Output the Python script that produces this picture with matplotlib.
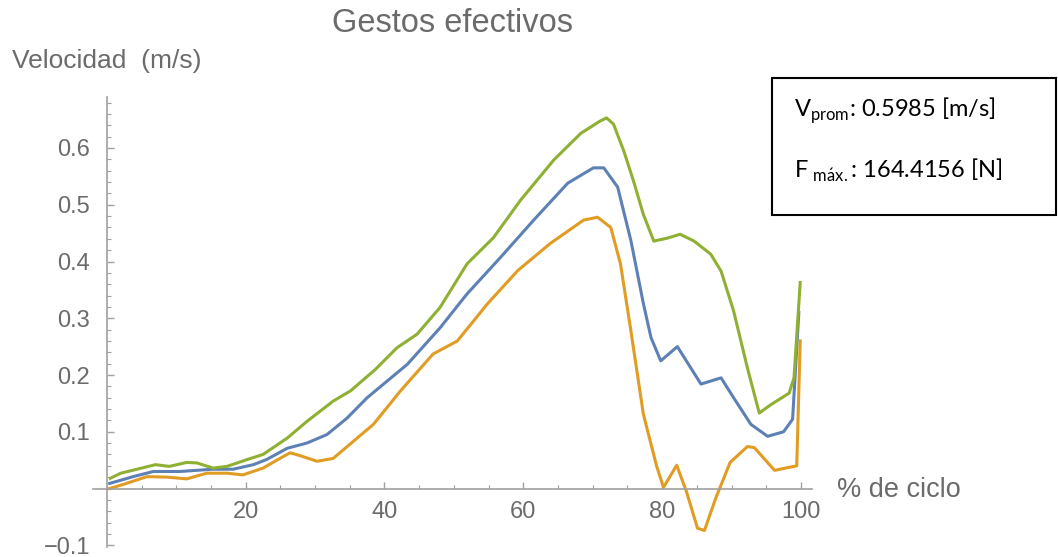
import matplotlib
matplotlib.use("Agg")
from matplotlib import pyplot as plt
from matplotlib.patches import Rectangle
from matplotlib.ticker import MultipleLocator

plt.rcParams["font.family"] = ["Liberation Sans", "DejaVu Sans"]
plt.rcParams["mathtext.fontset"] = "custom"
plt.rcParams["mathtext.rm"] = "Lato"

# green curve (upper)
green_x = [0.5, 2, 5, 7, 9, 11.5, 13, 15.3, 17.3, 20.2, 22.5, 26, 28.8, 32.6, 35.1, 38.7,
           41.8, 44.7, 48, 51.9, 55.7, 59.6, 64.4, 68.3, 71, 72, 73, 74.5, 75.9, 77.3,
           78.8, 80.7, 82.6, 84.6, 87, 88.5, 90.3, 92.3, 94, 95.7, 98.3, 99, 99.9]
green_y = [0.018, 0.027, 0.036, 0.042, 0.039, 0.046, 0.045, 0.036, 0.039, 0.051, 0.06,
           0.089, 0.118, 0.154, 0.172, 0.21, 0.248, 0.272, 0.319, 0.396, 0.442, 0.508,
           0.579, 0.626, 0.647, 0.653, 0.642, 0.594, 0.541, 0.483, 0.436, 0.441, 0.448,
           0.436, 0.413, 0.383, 0.313, 0.212, 0.133, 0.148, 0.168, 0.195, 0.363]

# blue curve (mean)
blue_x = [0.4, 3.8, 6.7, 10.5, 15.3, 18.2, 21.1, 23, 26, 28.8, 31.7, 34.6, 37.5, 43.3,
          48, 51.9, 56.7, 61.5, 66.4, 70.1, 71.6, 73.6, 75.5, 77.3, 78.4, 79.8, 82.2,
          85.6, 88.5, 90.3, 92.8, 95.2, 97.5, 98.8, 99.7]
blue_y = [0.009, 0.021, 0.03, 0.03, 0.034, 0.034, 0.042, 0.051, 0.071, 0.08, 0.095,
          0.124, 0.16, 0.219, 0.283, 0.343, 0.407, 0.473, 0.538, 0.565, 0.565, 0.531,
          0.437, 0.326, 0.266, 0.225, 0.25, 0.184, 0.195, 0.16, 0.113, 0.092, 0.10,
          0.122, 0.31]

# orange curve (lower)
orange_x = [0.4, 2.3, 5.8, 8.7, 11.5, 14.4, 17.3, 19.6, 22.5, 24.5, 26.4, 27.8, 30.3,
            32.6, 35.5, 38.4, 42.3, 47, 50.5, 54.8, 59.2, 63.9, 68.7, 70.7, 72.6, 74,
            75.5, 77.3, 79.2, 80.2, 82.1, 83.5, 85.1, 86.1, 87.7, 89.8, 92.3, 93.3,
            96.2, 99.4, 99.9]
orange_y = [0.0, 0.007, 0.021, 0.02, 0.017, 0.027, 0.027, 0.024, 0.036, 0.05, 0.063,
            0.058, 0.048, 0.053, 0.083, 0.113, 0.172, 0.237, 0.26, 0.325, 0.384, 0.432,
            0.473, 0.478, 0.46, 0.396, 0.278, 0.131, 0.04, 0.002, 0.041, -0.005, -0.07,
            -0.074, -0.018, 0.046, 0.074, 0.072, 0.032, 0.04, 0.26]

x_ticks = [20, 40, 60, 80, 100]
y_ticks = [-0.1, 0.1, 0.2, 0.3, 0.4, 0.5, 0.6]
y_labels = ["\u22120.1", "0.1", "0.2", "0.3", "0.4", "0.5", "0.6"]

gray = "#6b6b6b"
axis_gray = "#a0a0a0"

fig = plt.figure(figsize=(10.58, 5.57), dpi=100)
ax = fig.add_axes([0.0879, 0.018, 0.6796, 0.808])

ax.plot(blue_x, blue_y, color="#5E81B5", lw=2.2)
ax.plot(green_x, green_y, color="#8FB032", lw=2.2)
ax.plot(orange_x, orange_y, color="#E19C24", lw=2.2)

ax.set_xlim(-2, 101.6)
ax.set_ylim(-0.103, 0.69)

for s in ["top", "right"]:
    ax.spines[s].set_visible(False)
ax.spines["left"].set_position(("data", 0))
ax.spines["bottom"].set_position(("data", 0))
for s in ["left", "bottom"]:
    ax.spines[s].set_color(axis_gray)
    ax.spines[s].set_linewidth(1.2)

ax.set_xticks(x_ticks)
ax.xaxis.set_minor_locator(MultipleLocator(5))
ax.set_yticks(y_ticks)
ax.set_yticklabels(y_labels)
ax.yaxis.set_minor_locator(MultipleLocator(0.02))
ax.tick_params(which="both", direction="in", color=axis_gray, labelcolor=gray,
               labelsize=17)
ax.tick_params(which="major", length=5, width=1)
ax.tick_params(which="minor", length=3, width=0.8)
ax.tick_params(axis="x", pad=9)
ax.tick_params(axis="y", pad=12)

fig.text(0.428, 0.943, "Gestos efectivos", ha="center", va="baseline",
         fontsize=23.5, color=gray)
fig.text(0.011, 0.878, "Velocidad  (m/s)", ha="left", va="baseline",
         fontsize=19, color=gray)
fig.text(0.791, 0.108, "% de ciclo", ha="left", va="baseline",
         fontsize=19.5, color=gray)

fig.patches.append(Rectangle((0.730, 0.614), 0.268, 0.246, transform=fig.transFigure,
                             fill=False, edgecolor="black", lw=1.5))
fig.text(0.750, 0.79, r"V$_{\mathrm{prom}}$: 0.5985 [m/s]", ha="left",
         va="baseline", fontsize=17, family="Lato", color="black")
fig.text(0.750, 0.68, r"F$_{\mathrm{\ m\'ax.}}$: 164.4156 [N]", ha="left",
         va="baseline", fontsize=17, family="Lato", color="black")

fig.savefig("out.png", dpi=100)
